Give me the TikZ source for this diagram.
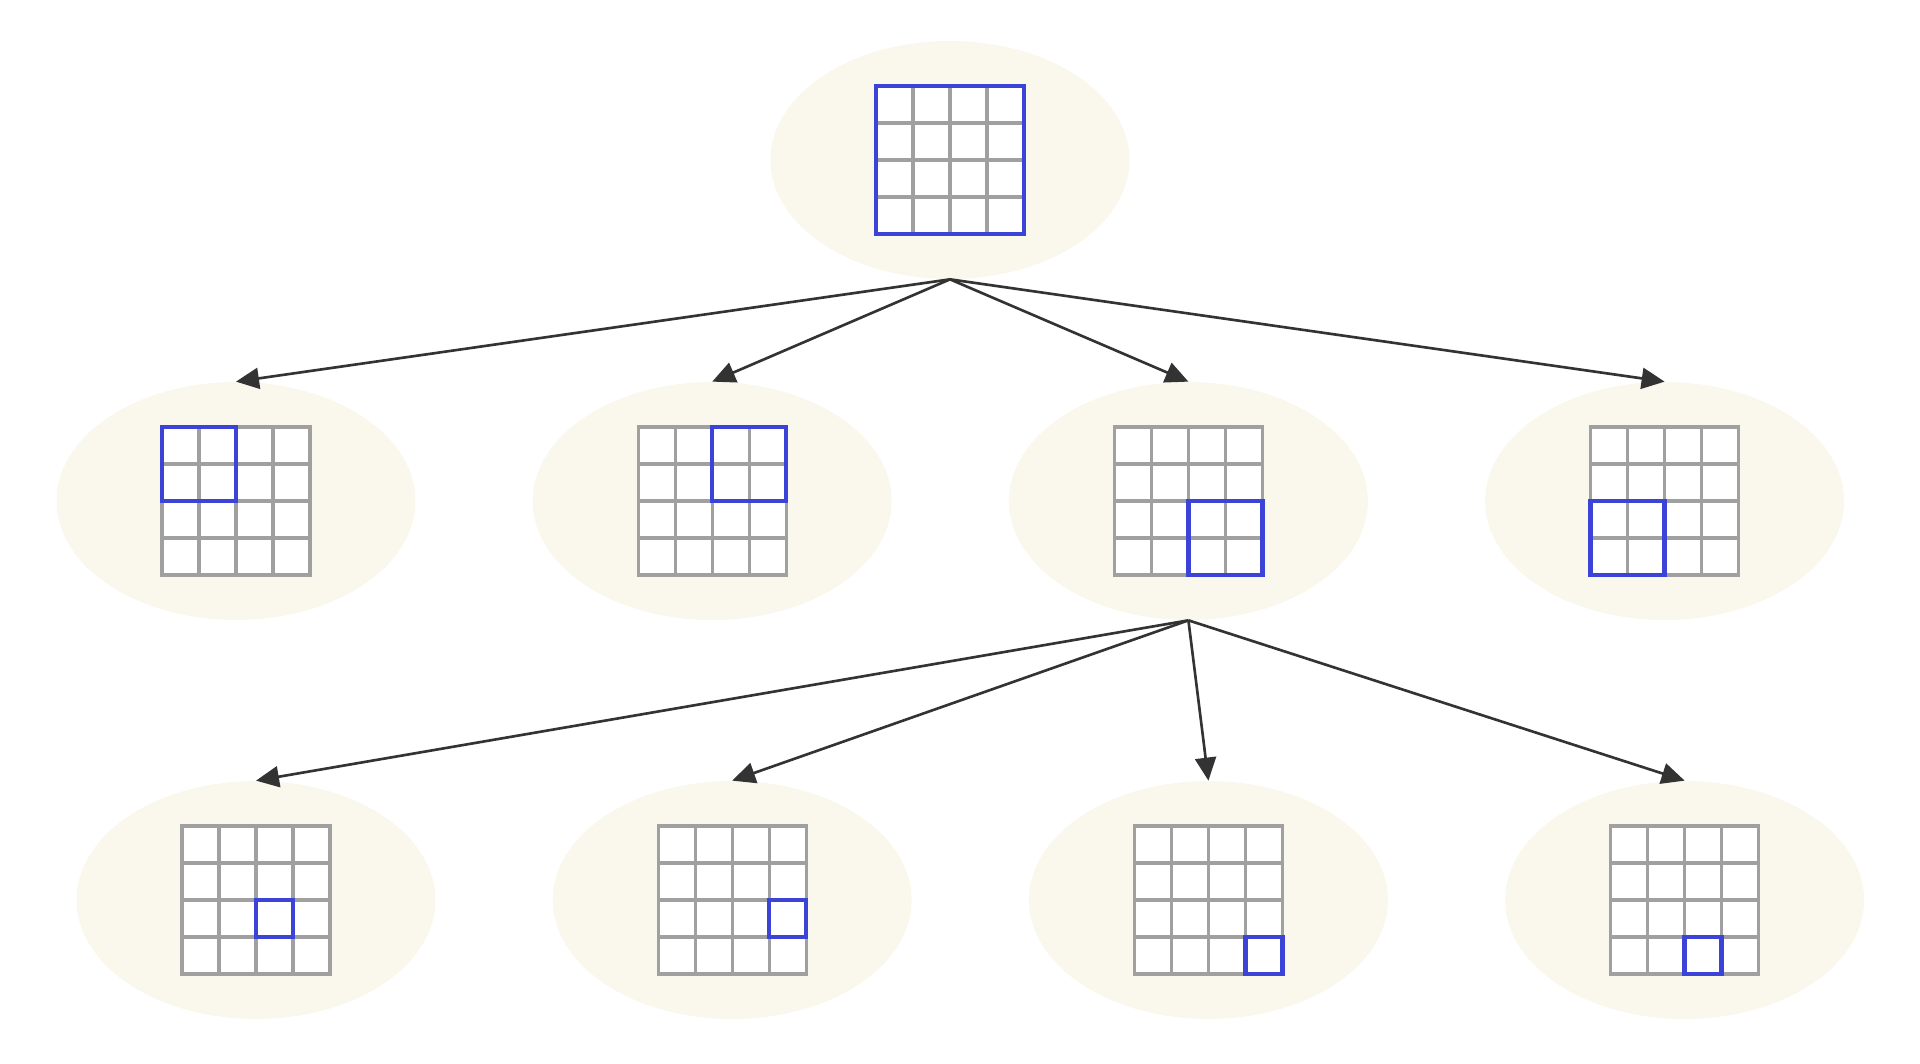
\documentclass[tikz,border=0pt]{standalone}
\usepackage{tikz}
\usetikzlibrary{arrows.meta,positioning,shapes.geometric}
\definecolor{cream}{HTML}{FAF7EC}
\definecolor{cellgray}{HTML}{A0A0A0}
\definecolor{pickblue}{HTML}{3B44D6}
\definecolor{darktext}{HTML}{333333}

\begin{document}
\begin{tikzpicture}[
  x=0.2mm, y=0.2mm,
  node distance=23.3mm,
  tile/.style={
    ellipse, fill=cream, draw=none, inner sep=0pt,
    minimum width=71.8mm, minimum height=47.6mm
  },
  gridline/.style={draw=cellgray, line width=1.8pt, line cap=rect},
  pick/.style={draw=pickblue, line width=2.5pt, line join=miter},
  arrow/.style={-{Triangle[length=4.6mm,width=4.2mm]}, line width=1.5pt, color=darktext}
]
  \useasboundingbox (0,0) rectangle (1920,1063);
  \node[tile] (top) at (950,903) {};
  \node[tile] (m1) at (236,562) {};
  \node[tile, right=of m1] (m2) {};
  \node[tile, right=of m2] (m3) {};
  \node[tile, right=of m3] (m4) {};
  \node[tile] (b1) at (256,163) {};
  \node[tile, right=of b1] (b2) {};
  \node[tile, right=of b2] (b3) {};
  \node[tile, right=of b3] (b4) {};
  % 4x4 grids with the chosen block
  \foreach \n/\xa/\ya/\xb/\yb in {top/-74/-74/74/74, m1/-74/0/0/74, m2/0/0/74/74,
      m3/0/-74/74/0, m4/-74/-74/0/0, b1/0/-37/37/0, b2/37/-37/74/0,
      b3/37/-74/74/-37, b4/0/-74/37/-37} {
    \begin{scope}[shift={(\n)}]
      \fill[white] (-74,-74) rectangle (74,74);
      \foreach \k in {-74,-37,0,37,74} {
        \draw[gridline] (\k,-74) -- (\k,74);
        \draw[gridline] (-74,\k) -- (74,\k);
      }
      \draw[pick] (\xa,\ya) rectangle (\xb,\yb);
    \end{scope}
  }
  \draw[arrow] (top.south) -- (m1.north);
  \draw[arrow] (top.south) -- (m2.north);
  \draw[arrow] (top.south) -- (m3.north);
  \draw[arrow] (top.south) -- (m4.north);
  \draw[arrow] (m3.south) -- (b1.north);
  \draw[arrow] (m3.south) -- (b2.north);
  \draw[arrow] (m3.south) -- (b3.north);
  \draw[arrow] (m3.south) -- (b4.north);
\end{tikzpicture}
\end{document}
